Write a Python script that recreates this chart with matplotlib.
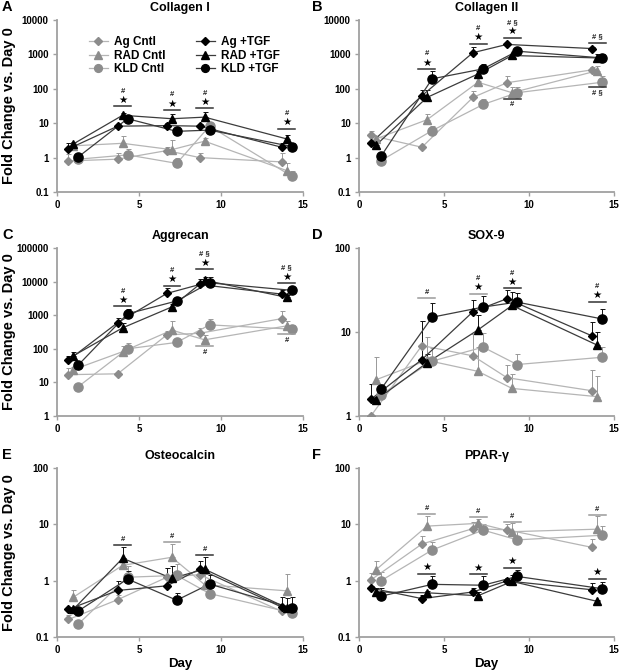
import numpy as np
import matplotlib
matplotlib.use("Agg")
import matplotlib.pyplot as plt
from matplotlib.lines import Line2D

plt.rcParams['font.family'] = ['Liberation Sans', 'DejaVu Sans']
plt.rcParams['font.weight'] = 'bold'

# ---------------- data ----------------
days = [1, 4, 7, 9, 14]
offsets = {'ag': -0.3, 'rad': 0.0, 'kld': 0.3}
series_labels = ['Ag Cntl', 'RAD Cntl', 'KLD Cntl', 'Ag +TGF', 'RAD +TGF', 'KLD +TGF']

# A: Collagen I
col1_ag_c = [0.8, 0.9, 1.6, 1.0, 0.75]
col1_rad_c = [2.2, 2.6, 1.7, 3.0, 0.42]
col1_kld_c = [0.9, 1.2, 0.68, 8.2, 0.29]
col1_ag_t = [1.8, 8.2, 8.5, 8.2, 2.0]
col1_rad_t = [2.5, 17, 13.5, 15, 3.5]
col1_kld_t = [1.05, 13.5, 5.8, 6.3, 2.1]
col1_ag_c_hi = [1.25, 1.35, 2.0, 1.4, 1.35]
col1_rad_c_hi = [2.6, 4.2, 3.2, 3.6, 0.7]
col1_kld_c_hi = [1.1, 1.8, 1.0, 9.5, 0.42]
col1_ag_t_hi = [2.7, 9.5, 10, 9.5, 2.7]
col1_rad_t_hi = [2.9, 19.5, 19, 21, 4.6]
col1_kld_t_hi = [1.2, 15, 6.5, 7, 2.7]

# B: Collagen II
col2_ag_c = [4.4, 2.0, 56, 150, 355]
col2_rad_c = [3.5, 12.6, 155, 77, 334]
col2_kld_c = [0.82, 6.1, 35, 77, 155]
col2_ag_t = [2.65, 63, 1120, 1950, 1480]
col2_rad_t = [2.3, 56, 270, 930, 790]
col2_kld_t = [1.1, 195, 380, 1240, 790]
col2_ag_c_hi = [5.8, 2.2, 85, 230, 420]
col2_rad_c_hi = [4.0, 18.5, 170, 115, 470]
col2_kld_c_hi = [1.0, 8.5, 52, 110, 230]
col2_ag_t_hi = [2.9, 90, 1600, 2100, 1600]
col2_rad_t_hi = [3.2, 95, 320, 1000, 1000]
col2_kld_t_hi = [1.4, 320, 530, 1400, 1000]

# C: Aggrecan
agg_ag_c = [17, 18, 260, 290, 790]
agg_rad_c = [24, 82, 360, 185, 480]
agg_kld_c = [7.5, 100, 155, 515, 385]
agg_ag_t = [46, 600, 4450, 8200, 4250]
agg_rad_t = [62, 420, 1760, 11000, 3400]
agg_kld_t = [33, 1100, 2650, 9200, 5500]
agg_ag_c_hi = [27, 19, 350, 430, 1300]
agg_rad_c_hi = [28, 120, 650, 260, 650]
agg_kld_c_hi = [8, 145, 190, 760, 520]
agg_ag_t_hi = [60, 800, 6500, 12000, 5500]
agg_rad_t_hi = [80, 600, 2100, 14000, 4000]
agg_kld_t_hi = [38, 1500, 3600, 14000, 6200]

# D: SOX-9
sox_ag_c = [1.0, 6.9, 5.2, 2.86, 2.0]
sox_rad_c = [2.7, 4.6, 3.4, 2.13, 1.7]
sox_kld_c = [1.8, 4.5, 6.6, 4.1, 5.0]
sox_ag_t = [1.58, 4.7, 17.4, 24.9, 9.0]
sox_rad_t = [1.55, 4.3, 10.6, 20.7, 7.0]
sox_kld_t = [2.09, 15, 19.8, 22.7, 14.3]
sox_ag_c_hi = [1.0, 13.5, 9.5, 4.0, 3.5]
sox_rad_c_hi = [5.0, 8.8, 6.6, 3.2, 3.0]
sox_kld_c_hi = [2.4, 6.5, 9.7, 5.5, 6.7]
sox_ag_t_hi = [2.4, 13.5, 24, 32, 13]
sox_rad_t_hi = [1.7, 5.5, 16, 30, 10]
sox_kld_t_hi = [2.3, 22, 27, 29, 19]

# E: Osteocalcin
ost_ag_c = [0.205, 0.46, 1.15, 1.28, 0.285]
ost_rad_c = [0.51, 1.87, 2.6, 0.85, 0.66]
ost_kld_c = [0.17, 1.15, 1.24, 0.59, 0.27]
ost_ag_t = [0.31, 0.67, 0.81, 1.6, 0.34]
ost_rad_t = [0.31, 2.5, 1.1, 1.6, 0.33]
ost_kld_t = [0.29, 1.07, 0.45, 0.87, 0.33]
ost_ag_c_hi = [0.25, 0.55, 1.7, 1.6, 0.35]
ost_rad_c_hi = [0.68, 2.5, 4.5, 1.3, 1.3]
ost_kld_c_hi = [0.2, 1.8, 2.0, 0.75, 0.32]
ost_ag_t_hi = [0.34, 1.0, 1.7, 2.2, 0.52]
ost_rad_t_hi = [0.34, 3.9, 1.8, 2.6, 0.5]
ost_kld_t_hi = [0.32, 1.5, 0.6, 1.25, 0.52]

# F: PPAR-gamma
ppar_ag_c = [1.03, 4.47, 8.4, 8.0, 3.9]
ppar_rad_c = [1.56, 9.3, 10.4, 7.4, 8.2]
ppar_kld_c = [1.0, 3.5, 7.9, 5.3, 6.4]
ppar_ag_t = [0.74, 0.48, 0.63, 0.99, 0.69]
ppar_rad_t = [0.63, 0.61, 0.54, 0.97, 0.43]
ppar_kld_t = [0.53, 0.86, 0.83, 1.19, 0.72]
ppar_ag_c_hi = [1.35, 6.2, 11, 10, 5.4]
ppar_rad_c_hi = [2.2, 14, 12.5, 10.5, 14]
ppar_kld_c_hi = [1.45, 4.8, 10, 7.6, 9.2]
ppar_ag_t_hi = [0.8, 0.55, 0.75, 1.1, 0.9]
ppar_rad_t_hi = [0.75, 0.65, 0.62, 1.25, 0.45]
ppar_kld_t_hi = [0.75, 1.2, 1.2, 1.55, 0.95]

titles = ['Collagen I', 'Collagen II', 'Aggrecan', 'SOX-9', 'Osteocalcin', 'PPAR-γ']
letters = ['A', 'B', 'C', 'D', 'E', 'F']
ylims = [(0.1, 10000), (0.1, 10000), (1, 100000), (1, 100), (0.1, 100), (0.1, 100)]

# significance annotations: (day, line value, star, text, below, gray line)
ann_col1 = [(4, 31, True, '#', False, False), (7, 24, True, '#', False, False),
            (9, 27, True, '#', False, False), (14, 7.0, True, '#', False, False)]
ann_col2 = [(4, 375, True, '#', False, False), (7, 2050, True, '#', False, False),
            (9, 3070, True, '# §', False, False), (14, 2180, False, '# §', False, False),
            (9, 52, False, '#', True, False), (14, 115, False, '# §', True, False)]
ann_agg = [(4, 1840, True, '#', False, False), (7, 7500, True, '#', False, False),
           (9, 23000, True, '# §', False, False), (14, 8800, True, '# §', False, False),
           (9, 118, False, '#', True, True), (14, 270, False, '#', True, True)]
ann_sox = [(4, 25.6, False, '#', False, True), (7, 28.6, True, '#', False, True),
           (9, 33, True, '#', False, False), (14, 23, True, '#', False, False)]
ann_ost = [(4, 4.36, False, '#', False, False), (7, 4.8, False, '#', False, True),
           (9, 2.9, False, '#', False, False)]
ann_ppar = [(4, 15.5, False, '#', False, True), (7, 13.7, False, '#', False, True),
            (9, 11.2, False, '#', False, True), (14, 14.5, False, '#', False, True),
            (4, 1.33, True, '', False, False), (7, 1.29, True, '', False, False),
            (9, 1.69, True, '', False, False), (14, 1.08, True, '', False, False)]

panels = [
    (col1_ag_c, col1_rad_c, col1_kld_c, col1_ag_t, col1_rad_t, col1_kld_t),
    (col2_ag_c, col2_rad_c, col2_kld_c, col2_ag_t, col2_rad_t, col2_kld_t),
    (agg_ag_c, agg_rad_c, agg_kld_c, agg_ag_t, agg_rad_t, agg_kld_t),
    (sox_ag_c, sox_rad_c, sox_kld_c, sox_ag_t, sox_rad_t, sox_kld_t),
    (ost_ag_c, ost_rad_c, ost_kld_c, ost_ag_t, ost_rad_t, ost_kld_t),
    (ppar_ag_c, ppar_rad_c, ppar_kld_c, ppar_ag_t, ppar_rad_t, ppar_kld_t),
]
panels_hi = [
    (col1_ag_c_hi, col1_rad_c_hi, col1_kld_c_hi, col1_ag_t_hi, col1_rad_t_hi, col1_kld_t_hi),
    (col2_ag_c_hi, col2_rad_c_hi, col2_kld_c_hi, col2_ag_t_hi, col2_rad_t_hi, col2_kld_t_hi),
    (agg_ag_c_hi, agg_rad_c_hi, agg_kld_c_hi, agg_ag_t_hi, agg_rad_t_hi, agg_kld_t_hi),
    (sox_ag_c_hi, sox_rad_c_hi, sox_kld_c_hi, sox_ag_t_hi, sox_rad_t_hi, sox_kld_t_hi),
    (ost_ag_c_hi, ost_rad_c_hi, ost_kld_c_hi, ost_ag_t_hi, ost_rad_t_hi, ost_kld_t_hi),
    (ppar_ag_c_hi, ppar_rad_c_hi, ppar_kld_c_hi, ppar_ag_t_hi, ppar_rad_t_hi, ppar_kld_t_hi),
]
annotations = [ann_col1, ann_col2, ann_agg, ann_sox, ann_ost, ann_ppar]

# ---------------- style ----------------
CNTL_MK = '#8c8c8c'
CNTL_LN = '#b5b5b5'
TGF_MK = '#000000'
TGF_LN = '#3c3c3c'
SPINE = '#a0a0a0'
styles = [
    ('ag', 'D', 4.4, CNTL_MK, CNTL_LN),
    ('rad', '^', 6.2, CNTL_MK, CNTL_LN),
    ('kld', 'o', 6.6, CNTL_MK, CNTL_LN),
    ('ag', 'D', 4.4, TGF_MK, TGF_LN),
    ('rad', '^', 6.2, TGF_MK, TGF_LN),
    ('kld', 'o', 6.6, TGF_MK, TGF_LN),
]

fig = plt.figure(figsize=(6.2, 6.72), dpi=100)
W, H = 620.0, 672.0
col_x = [(57, 303), (359, 614)]
row_y = [(20, 192), (248, 416), (468, 637)]


def fmt(v):
    return '0.1' if v < 1 else str(int(round(v)))


for i in range(6):
    r, c = divmod(i, 2)
    x0, x1 = col_x[c]
    y0, y1 = row_y[r]
    ax = fig.add_axes([x0 / W, 1 - y1 / H, (x1 - x0) / W, (y1 - y0) / H])
    ax.set_yscale('log')
    ax.set_xlim(0, 15)
    ax.set_ylim(*ylims[i])
    for s in ['top', 'right']:
        ax.spines[s].set_visible(False)
    for s in ['left', 'bottom']:
        ax.spines[s].set_color(SPINE)
        ax.spines[s].set_linewidth(1.3)
    lo, hi = ylims[i]
    yt = [10.0 ** k for k in range(int(round(np.log10(lo))), int(round(np.log10(hi))) + 1)]
    ax.set_yticks(yt)
    ax.set_yticklabels([fmt(v) for v in yt])
    ax.yaxis.set_minor_locator(matplotlib.ticker.NullLocator())
    ax.set_xticks([0, 5, 10, 15])
    ax.set_xticklabels(['0', '5', '10', '15'])
    ax.tick_params(axis='both', colors=SPINE, labelcolor='black', labelsize=7,
                   length=3, width=1.0, pad=3)
    for lab in ax.get_xticklabels() + ax.get_yticklabels():
        lab.set_fontweight('bold')

    vals = panels[i]
    his = panels_hi[i]
    for (key, mk, ms, mcol, lcol), v, h in zip(styles, vals, his):
        xs = np.array(days, dtype=float) + offsets[key]
        v = np.array(v, dtype=float)
        h = np.array(h, dtype=float)
        up = np.clip(h - v, 0, None)
        ax.errorbar(xs, v, yerr=[np.zeros_like(up), up], fmt='none',
                    ecolor='#111111' if mcol == TGF_MK else '#999999',
                    elinewidth=0.7, capsize=1.8, capthick=0.7, zorder=2)
        ax.plot(xs, v, color=lcol, lw=0.9, zorder=3)
        ax.plot(xs, v, linestyle='none', marker=mk, ms=ms, color=mcol,
                markeredgecolor=mcol, zorder=4)

    for (d, yv, star, txt, below, gray) in annotations[i]:
        lc = '#9a9a9a' if gray else '#333333'
        ax.plot([d - 0.5, d + 0.5], [yv, yv], color=lc, lw=1.1, zorder=5)
        if below:
            ax.annotate(txt, xy=(d, yv), xytext=(0, -4.5), textcoords='offset points',
                        ha='center', va='center', fontsize=5.5, color='#222222')
        else:
            if star:
                ax.annotate('★', xy=(d, yv), xytext=(0, 4.6), textcoords='offset points',
                            ha='center', va='center', fontsize=7.5, color='black',
                            family='DejaVu Sans')
                if txt:
                    ax.annotate(txt, xy=(d, yv), xytext=(0, 11), textcoords='offset points',
                                ha='center', va='center', fontsize=5.5, color='#222222')
            elif txt:
                ax.annotate(txt, xy=(d, yv), xytext=(0, 4.0), textcoords='offset points',
                            ha='center', va='center', fontsize=5.5, color='#222222')

    # title and panel letter
    fig.text((x0 + x1) / 2 / W, 1 - 8 / H if r == 0 else 1 - (y0 - 12) / H, titles[i],
             ha='center', va='center', fontsize=9, fontweight='bold')
    fig.text((x0 - 55) / W if c == 0 else (x0 - 47) / W, 1 - (y0 - 13) / H if r else 1 - 7 / H,
             letters[i], ha='left', va='center', fontsize=10.5, fontweight='bold')
    if c == 0:
        fig.text(9 / W, 1 - (y0 + y1) / 2 / H, 'Fold Change vs. Day 0', rotation=90,
                 ha='center', va='center', fontsize=10.5, fontweight='bold')
    if r == 2:
        ax.set_xlabel('Day', fontsize=9.5, fontweight='bold', labelpad=2)

    if i == 0:
        handles = [Line2D([0], [0], color=lcol, lw=0.9, marker=mk, ms=ms * 0.85,
                          markerfacecolor=mcol, markeredgecolor=mcol)
                   for (key, mk, ms, mcol, lcol) in styles]
        ax.legend(handles, series_labels, ncol=2, loc='upper left',
                  bbox_to_anchor=(0.11, 0.935), frameon=False,
                  prop={'weight': 'bold', 'size': 8.5}, handlelength=1.6,
                  handletextpad=0.5, labelspacing=0.15, columnspacing=2.6,
                  borderaxespad=0.0)

fig.savefig('out.png', dpi=100)
